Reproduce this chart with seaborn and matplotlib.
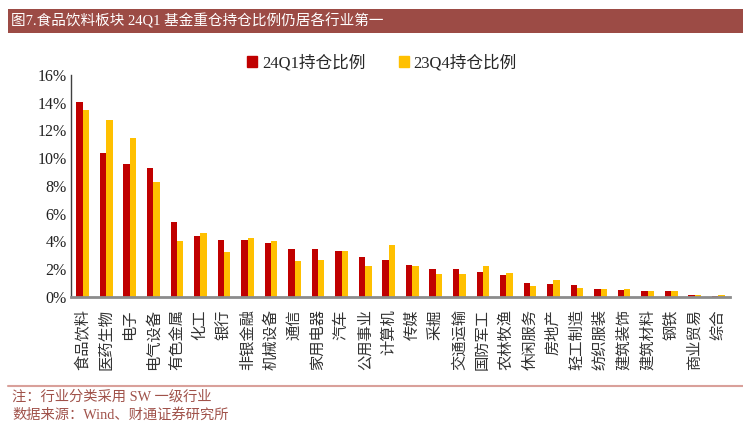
import numpy as np
import pandas as pd
import matplotlib
matplotlib.use("Agg")
import matplotlib.pyplot as plt
import seaborn as sns
from matplotlib.patches import Rectangle
from matplotlib.lines import Line2D

industries = ["食品饮料", "医药生物", "电子", "电气设备", "有色金属", "化工", "银行",
              "非银金融", "机械设备", "通信", "家用电器", "汽车", "公用事业", "计算机",
              "传媒", "采掘", "交通运输", "国防军工", "农林牧渔", "休闲服务", "房地产",
              "轻工制造", "纺织服装", "建筑装饰", "建筑材料", "钢铁", "商业贸易", "综合"]
q1_24 = [14.05, 10.38, 9.55, 9.28, 5.37, 4.39, 4.12, 4.12, 3.90, 3.43, 3.43, 3.35, 2.88,
         2.64, 2.30, 2.03, 2.03, 1.83, 1.61, 0.99, 0.94, 0.86, 0.60, 0.52, 0.45, 0.45, 0.17, 0.10]
q4_23 = [13.50, 12.75, 11.46, 8.29, 4.05, 4.60, 3.24, 4.27, 4.05, 2.61, 2.68, 3.35, 2.20,
         3.74, 2.23, 1.68, 1.68, 2.23, 1.76, 0.79, 1.20, 0.65, 0.60, 0.57, 0.45, 0.45, 0.17, 0.17]
series_names = ["24Q1持仓比例", "23Q4持仓比例"]
yticks = [0, 2, 4, 6, 8, 10, 12, 14, 16]
title = "图7.食品饮料板块 24Q1 基金重仓持仓比例仍居各行业第一"
note1 = "注：行业分类采用 SW 一级行业"
note2 = "数据来源：Wind、财通证券研究所"

sns.set_theme(style="white")
FAM = ["Liberation Serif", "Noto Sans CJK SC", "DejaVu Sans"]
plt.rcParams["font.family"] = FAM

df = pd.DataFrame({
    "industry": industries * 2,
    "value": q1_24 + q4_23,
    "series": [series_names[0]] * len(industries) + [series_names[1]] * len(industries),
})

fig = plt.figure(figsize=(7.43, 4.26), dpi=100)
ax = fig.add_axes([71 / 743, 1 - 297 / 426, (730 - 71) / 743, (297 - 75) / 426])

colors = ["#C00000", "#FFC000"]
sns.barplot(data=df, x="industry", y="value", hue="series", palette=colors,
            width=0.54, ax=ax, legend=False, saturation=1, linewidth=0)

ax.set_xlim(-0.5, len(industries) - 0.5)
ax.set_ylim(0, 16)
ax.set_yticks(yticks)
ax.set_yticklabels([f"{v}%" for v in yticks], fontsize=11.5, color="#222222")
ax.set_xlabel("")
ax.set_ylabel("")

ax.set_xticks(range(len(industries)))
ax.set_xticklabels(industries, rotation=90, fontsize=11, color="#333333",
                   va="top", ha="center")
ax.tick_params(axis="x", length=0, pad=9)
ax.set_xticks(np.arange(-0.5, len(industries), 1), minor=True)
ax.tick_params(axis="x", which="minor", direction="in", length=4, width=1, color="black")
ax.tick_params(axis="y", direction="in", length=5, width=1, color="black", pad=3)

for s in ["top", "right"]:
    ax.spines[s].set_visible(False)
ax.spines["left"].set_color("#404040")
ax.spines["left"].set_linewidth(1)
ax.spines["bottom"].set_color("#8c8c8c")
ax.spines["bottom"].set_linewidth(2)

handles = [Rectangle((0, 0), 1, 1, color=c) for c in colors]
fig.legend(handles, series_names, loc="center", bbox_to_anchor=(382 / 743, 1 - 63 / 426),
           ncol=2, frameon=False, handlelength=0.6, handleheight=0.6,
           handletextpad=0.3, columnspacing=2.0, prop={"family": FAM, "size": 12})

fig.patches.append(Rectangle((8 / 743, 1 - 33 / 426), 735 / 743, 24 / 426,
                             transform=fig.transFigure, facecolor="#9C4B45",
                             edgecolor="none", zorder=0))
fig.text(11 / 743, 1 - 21 / 426, title, color="white", fontsize=10.5, va="center",
         ha="left")

fig.lines.append(Line2D([8 / 743, 1], [1 - 386 / 426] * 2, transform=fig.transFigure,
                        color="#D9A09A", linewidth=1.5))
fig.text(12 / 743, 1 - 397 / 426, note1, color="#A0524A", fontsize=10.3, va="center",
         ha="left")
fig.text(12 / 743, 1 - 415 / 426, note2, color="#A0524A", fontsize=10.3, va="center",
         ha="left")

fig.savefig("out.png", dpi=100)
